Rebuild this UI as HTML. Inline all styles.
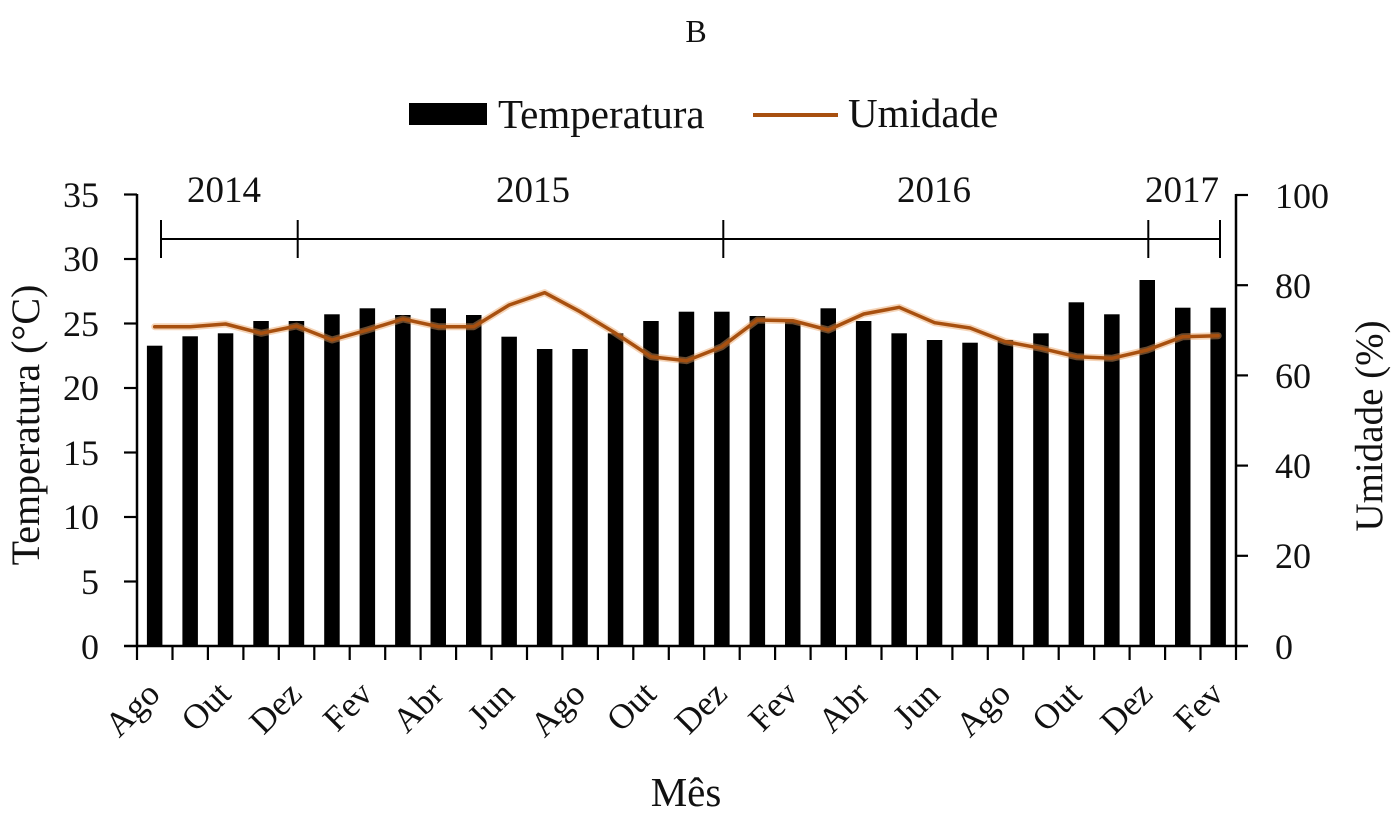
<!DOCTYPE html>
<html><head><meta charset="utf-8"><style>
html,body{margin:0;padding:0;background:#fff;}
svg{display:block;}
text{font-family:"Liberation Serif","Times New Roman",serif;fill:#111;}
</style></head><body>
<svg width="1400" height="819" viewBox="0 0 1400 819" xmlns="http://www.w3.org/2000/svg">
<rect width="1400" height="819" fill="#fff"/>
<!-- title -->
<text x="696" y="42" font-size="32" text-anchor="middle">B</text>
<!-- legend -->
<rect x="409" y="103" width="78" height="22" fill="#000"/>
<text x="498" y="128" font-size="41">Temperatura</text>
<line x1="753" y1="115" x2="838" y2="115" stroke="#a8500f" stroke-width="4"/>
<text x="848" y="127" font-size="41">Umidade</text>

<!-- year brackets -->
<g stroke="#000" stroke-width="2">
<line x1="161" y1="239" x2="1220" y2="239"/>
<line x1="161" y1="220" x2="161" y2="258"/>
<line x1="297.7" y1="220" x2="297.7" y2="258"/>
<line x1="723.3" y1="220" x2="723.3" y2="258"/>
<line x1="1148.3" y1="220" x2="1148.3" y2="258"/>
<line x1="1220" y1="220" x2="1220" y2="258"/>
</g>
<g font-size="37" text-anchor="middle">
<text x="224" y="202">2014</text>
<text x="533" y="202">2015</text>
<text x="934" y="202">2016</text>
<text x="1182" y="202">2017</text>
</g>

<!-- bars -->
<g fill="#000">
<rect x="146.9" y="345.7" width="15.5" height="300.3"/>
<rect x="182.4" y="336.3" width="15.5" height="309.7"/>
<rect x="217.8" y="333.3" width="15.5" height="312.7"/>
<rect x="253.3" y="321" width="15.5" height="325"/>
<rect x="288.7" y="321" width="15.5" height="325"/>
<rect x="324.2" y="314.3" width="15.5" height="331.7"/>
<rect x="359.6" y="308.3" width="15.5" height="337.7"/>
<rect x="395.1" y="315" width="15.5" height="331"/>
<rect x="430.5" y="308.3" width="15.5" height="337.7"/>
<rect x="466.0" y="315" width="15.5" height="331"/>
<rect x="501.4" y="336.7" width="15.5" height="309.3"/>
<rect x="536.9" y="349" width="15.5" height="297"/>
<rect x="572.3" y="349" width="15.5" height="297"/>
<rect x="607.8" y="333.3" width="15.5" height="312.7"/>
<rect x="643.2" y="321" width="15.5" height="325"/>
<rect x="678.7" y="311.7" width="15.5" height="334.3"/>
<rect x="714.1" y="311.7" width="15.5" height="334.3"/>
<rect x="749.6" y="316" width="15.5" height="330"/>
<rect x="785.0" y="321.7" width="15.5" height="324.3"/>
<rect x="820.5" y="308.3" width="15.5" height="337.7"/>
<rect x="855.9" y="321" width="15.5" height="325"/>
<rect x="891.4" y="333.3" width="15.5" height="312.7"/>
<rect x="926.8" y="340" width="15.5" height="306"/>
<rect x="962.3" y="342.7" width="15.5" height="303.3"/>
<rect x="997.7" y="340" width="15.5" height="306"/>
<rect x="1033.2" y="333.3" width="15.5" height="312.7"/>
<rect x="1068.6" y="302.3" width="15.5" height="343.7"/>
<rect x="1104.1" y="314.3" width="15.5" height="331.7"/>
<rect x="1139.5" y="280" width="15.5" height="366"/>
<rect x="1175.0" y="307.7" width="15.5" height="338.3"/>
<rect x="1210.4" y="307.7" width="15.5" height="338.3"/>
</g>

<!-- humidity line -->
<polyline fill="none" stroke="#e8a060" stroke-opacity="0.45" stroke-width="7" stroke-linejoin="round" stroke-linecap="round"
points="154.7,326.7 190.2,326.7 225.6,324 261.1,333.3 296.5,326 332.0,340 367.4,330 402.9,319 438.3,326.7 473.8,326.7 509.2,305 544.7,292.7 580.1,311.7 615.6,333.3 651.0,356.7 686.5,360.7 721.9,346.7 757.4,320 792.8,320.7 828.3,330 863.7,314 899.2,307.3 934.6,322.7 970.1,328 1005.5,341.7 1041.0,348.3 1076.4,356.7 1111.9,358.3 1147.3,350 1182.8,336.7 1218.2,335.7"/>
<polyline fill="none" stroke="#a8500f" stroke-width="3.5" stroke-linejoin="round" stroke-linecap="round"
points="154.7,326.7 190.2,326.7 225.6,324 261.1,333.3 296.5,326 332.0,340 367.4,330 402.9,319 438.3,326.7 473.8,326.7 509.2,305 544.7,292.7 580.1,311.7 615.6,333.3 651.0,356.7 686.5,360.7 721.9,346.7 757.4,320 792.8,320.7 828.3,330 863.7,314 899.2,307.3 934.6,322.7 970.1,328 1005.5,341.7 1041.0,348.3 1076.4,356.7 1111.9,358.3 1147.3,350 1182.8,336.7 1218.2,335.7"/>

<!-- axes -->
<g stroke="#000" stroke-width="2.5">
<line x1="137" y1="194" x2="137" y2="647"/>
<line x1="1236" y1="194" x2="1236" y2="647"/>
<line x1="124" y1="646" x2="1248" y2="646"/>
</g>
<g stroke="#000" stroke-width="2.2">
<!-- left ticks -->
<line x1="124" y1="194.5" x2="137" y2="194.5"/>
<line x1="124" y1="259" x2="137" y2="259"/>
<line x1="124" y1="323.5" x2="137" y2="323.5"/>
<line x1="124" y1="388" x2="137" y2="388"/>
<line x1="124" y1="452.5" x2="137" y2="452.5"/>
<line x1="124" y1="517" x2="137" y2="517"/>
<line x1="124" y1="581.5" x2="137" y2="581.5"/>
<!-- right ticks -->
<line x1="1236" y1="195" x2="1248" y2="195"/>
<line x1="1236" y1="285.2" x2="1248" y2="285.2"/>
<line x1="1236" y1="375.4" x2="1248" y2="375.4"/>
<line x1="1236" y1="465.6" x2="1248" y2="465.6"/>
<line x1="1236" y1="555.8" x2="1248" y2="555.8"/>
<!-- bottom ticks -->
<path d="M137 646v14M172.5 646v14M207.9 646v14M243.4 646v14M278.8 646v14M314.3 646v14M349.7 646v14M385.2 646v14M420.6 646v14M456.1 646v14M491.5 646v14M527 646v14M562.4 646v14M597.9 646v14M633.3 646v14M668.8 646v14M704.2 646v14M739.7 646v14M775.1 646v14M810.6 646v14M846 646v14M881.5 646v14M916.9 646v14M952.4 646v14M987.8 646v14M1023.3 646v14M1058.7 646v14M1094.2 646v14M1129.6 646v14M1165.1 646v14M1200.5 646v14M1236 646v14"/>
</g>

<!-- left tick labels -->
<g font-size="36" text-anchor="end">
<text x="99" y="207">35</text>
<text x="99" y="271">30</text>
<text x="99" y="336">25</text>
<text x="99" y="400">20</text>
<text x="99" y="465">15</text>
<text x="99" y="529">10</text>
<text x="99" y="594">5</text>
<text x="99" y="659">0</text>
</g>
<!-- right tick labels -->
<g font-size="36" text-anchor="start">
<text x="1275" y="208">100</text>
<text x="1275" y="298">80</text>
<text x="1275" y="388">60</text>
<text x="1275" y="478">40</text>
<text x="1275" y="568">20</text>
<text x="1275" y="659">0</text>
</g>

<!-- axis titles -->
<text transform="translate(39,425) rotate(-90)" font-size="40" text-anchor="middle">Temperatura (°C)</text>
<text transform="translate(1382,426) rotate(-90)" font-size="39" text-anchor="middle">Umidade (%)</text>
<text x="686" y="806" font-size="41" text-anchor="middle">Mês</text>

<!-- month labels -->
<g font-size="35" text-anchor="end">
<text transform="translate(161.7,696) rotate(-45)">Ago</text>
<text transform="translate(232.6,696) rotate(-45)">Out</text>
<text transform="translate(303.5,696) rotate(-45)">Dez</text>
<text transform="translate(374.4,696) rotate(-45)">Fev</text>
<text transform="translate(445.3,696) rotate(-45)">Abr</text>
<text transform="translate(516.2,696) rotate(-45)">Jun</text>
<text transform="translate(587.1,696) rotate(-45)">Ago</text>
<text transform="translate(658.0,696) rotate(-45)">Out</text>
<text transform="translate(728.9,696) rotate(-45)">Dez</text>
<text transform="translate(799.8,696) rotate(-45)">Fev</text>
<text transform="translate(870.7,696) rotate(-45)">Abr</text>
<text transform="translate(941.6,696) rotate(-45)">Jun</text>
<text transform="translate(1012.5,696) rotate(-45)">Ago</text>
<text transform="translate(1083.4,696) rotate(-45)">Out</text>
<text transform="translate(1154.3,696) rotate(-45)">Dez</text>
<text transform="translate(1225.2,696) rotate(-45)">Fev</text>
</g>
</svg>
</body></html>
